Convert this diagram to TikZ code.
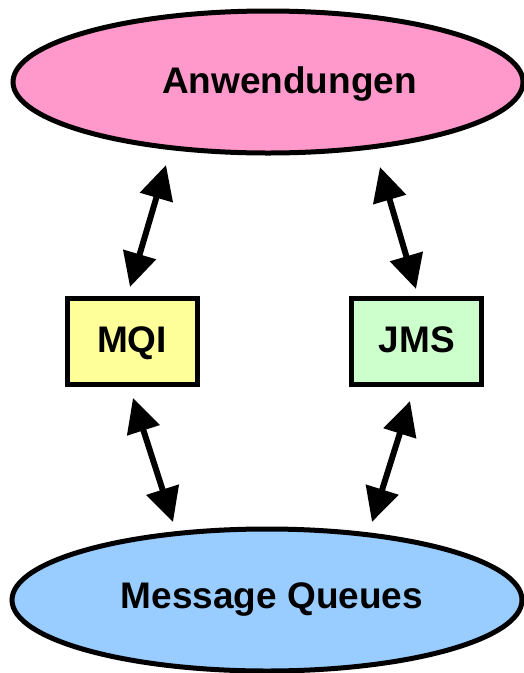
\documentclass[tikz,border=0pt]{standalone}
\usepackage{fontspec}
\setmainfont{Liberation Sans}
\usetikzlibrary{shapes.geometric,arrows.meta}
\definecolor{apppink}{RGB}{255,153,204}
\definecolor{queueblue}{RGB}{153,204,255}
\definecolor{mqiyellow}{RGB}{255,255,153}
\definecolor{jmsgreen}{RGB}{204,255,204}
\tikzset{
  bigtext/.style={font=\fontsize{37}{42}\selectfont\bfseries, inner sep=0pt},
  layer/.style={ellipse, draw=black, line width=5pt, inner sep=0pt,
    minimum width=510pt, minimum height=142pt},
  api/.style={rectangle, draw=black, line width=5pt, inner sep=0pt,
    minimum width=130pt, minimum height=86pt},
  link/.style={line width=6pt, {Triangle[length=34pt,width=33pt]}-{Triangle[length=34pt,width=33pt]}}
}
\begin{document}
\begin{tikzpicture}[x=1pt,y=-1pt]
  \useasboundingbox[fill=white] (0,0) rectangle (523,673);
  % application and queue layers
  \node[layer, fill=apppink] (apps) at (268,82) {};
  \node[bigtext, anchor=base] (appsText) at (289.5,93) {Anwendungen};
  \node[layer, fill=queueblue] (queues) at (267,600) {};
  \node[bigtext, anchor=base] (queuesText) at (272,608) {Message Queues};
  % programming interfaces
  \node[api, fill=mqiyellow] (mqi) at (132,341) {};
  \node[bigtext, anchor=base] (mqiText) at (132,352) {MQI};
  \node[api, fill=jmsgreen] (jms) at (416.5,341) {};
  \node[bigtext, anchor=base] (jmsText) at (417,352) {JMS};
  % arrow end points
  \coordinate (mqiA) at (166,165);
  \coordinate (mqiB) at (130,287);
  \coordinate (mqiC) at (133,398);
  \coordinate (mqiD) at (173,522);
  \coordinate (jmsA) at (380,167);
  \coordinate (jmsB) at (416,289);
  \coordinate (jmsC) at (410,401);
  \coordinate (jmsD) at (372,522);
  \draw[link] (mqiA) -- (mqiB);
  \draw[link] (mqiC) -- (mqiD);
  \draw[link] (jmsA) -- (jmsB);
  \draw[link] (jmsC) -- (jmsD);
\end{tikzpicture}
\end{document}
